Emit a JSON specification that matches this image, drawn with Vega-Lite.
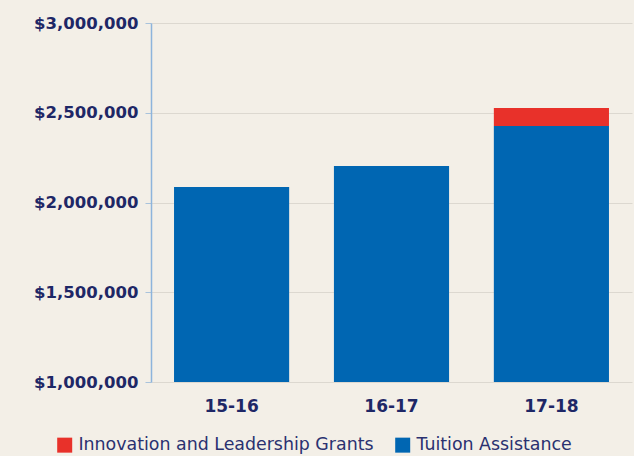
{
  "$schema": "https://vega.github.io/schema/vega-lite/v6.json",
  "width": 481,
  "height": 359,
  "autosize": {"type": "none"},
  "padding": {"left": 151, "top": 23, "right": 2, "bottom": 74},
  "background": "#f3efe7",
  "config": {
    "view": {"stroke": null},
    "font": "DejaVu Sans"
  },
  "data": {
    "values": [
      {"year": "15-16", "series": "Tuition Assistance", "amount": 2086000},
      {"year": "16-17", "series": "Tuition Assistance", "amount": 2203000},
      {"year": "17-18", "series": "Tuition Assistance", "amount": 2426000},
      {"year": "17-18", "series": "Innovation and Leadership Grants", "amount": 100000}
    ]
  },
  "mark": {"type": "bar", "clip": true},
  "encoding": {
    "x": {
      "field": "year",
      "type": "nominal",
      "scale": {"paddingInner": 0.28, "paddingOuter": 0.144},
      "axis": {
        "title": null,
        "labelAngle": 0,
        "domain": false,
        "ticks": false,
        "labelFont": "DejaVu Sans",
        "labelFontWeight": "bold",
        "labelFontSize": 17,
        "labelColor": "#1e2766",
        "labelPadding": 16
      }
    },
    "y": {
      "field": "amount",
      "type": "quantitative",
      "stack": "zero",
      "scale": {"domain": [1000000, 3000000], "zero": false, "nice": false},
      "axis": {
        "title": null,
        "values": [1000000, 1500000, 2000000, 2500000, 3000000],
        "format": "$,.0f",
        "domainColor": "#8db4dc",
        "domainWidth": 1.5,
        "tickColor": "#a9c3dc",
        "tickSize": 6,
        "gridColor": "#dcd8d0",
        "gridWidth": 1,
        "labelFont": "DejaVu Sans",
        "labelFontWeight": "bold",
        "labelFontSize": 16.5,
        "labelColor": "#1e2766",
        "labelPadding": 7
      }
    },
    "color": {
      "field": "series",
      "type": "nominal",
      "scale": {
        "domain": ["Innovation and Leadership Grants", "Tuition Assistance"],
        "range": ["#e8312a", "#0066b2"]
      },
      "legend": {
        "title": null,
        "orient": "none",
        "direction": "horizontal",
        "legendX": -95,
        "legendY": 413,
        "symbolType": "square",
        "symbolSize": 225,
        "symbolStrokeWidth": 0,
        "symbolOpacity": 1,
        "labelFont": "DejaVu Sans",
        "labelFontSize": 17.4,
        "labelColor": "#2a3170",
        "labelLimit": 400,
        "labelOffset": 5,
        "columnPadding": 20
      }
    },
    "order": {"field": "series", "sort": "descending"}
  }
}
